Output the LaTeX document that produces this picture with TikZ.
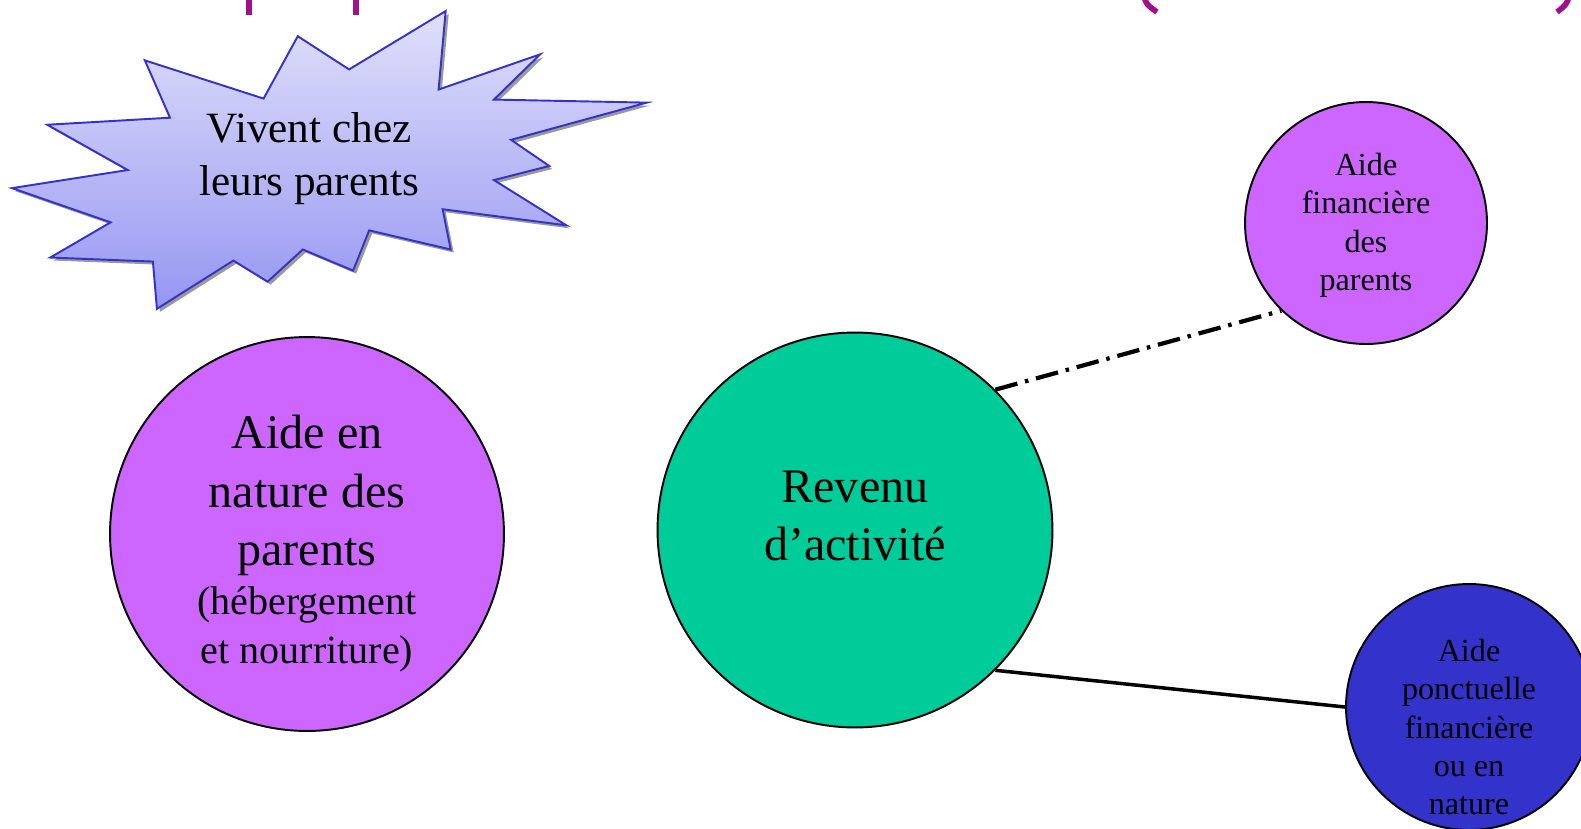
\documentclass[tikz,border=0pt]{standalone}
\usepackage{fontspec}
\setmainfont{Liberation Serif}
\definecolor{circpurple}{HTML}{CC66FF}
\definecolor{circgreen}{HTML}{00CC99}
\definecolor{circblue}{HTML}{3333CC}
\definecolor{titlepurple}{HTML}{A0108A}
\definecolor{startop}{HTML}{E0E0FB}
\definecolor{starbot}{HTML}{9696F2}
\definecolor{staredge}{HTML}{3333CC}
\definecolor{starshadow}{HTML}{9A9A9A}
\tikzset{
  bubble/.style={circle, draw=black, line width=1.1pt, inner sep=0pt},
  txt/.style={inner sep=0pt, align=center, text=black},
  bigtxt/.style={txt, font=\fontsize{27.4}{33.2}\selectfont},
  midtxt/.style={txt, font=\fontsize{22.8}{27.6}\selectfont},
  startxt/.style={txt, font=\fontsize{24.6}{29.8}\selectfont},
  smalltxt/.style={txt, font=\fontsize{18.3}{21.9}\selectfont},
  dashdotline/.style={line width=2.4pt, dash pattern=on 13pt off 4.5pt on 2pt off 4.5pt},
  solidline/.style={line width=2pt},
  titlestroke/.style={titlepurple, line width=3.2pt}
}
\begin{document}
\begin{tikzpicture}[x=0.02cm,y=-0.02cm]
\useasboundingbox (0,0) rectangle (1581,828);
\clip (0,0) rectangle (1581,828);

% cut-off title fragments
\draw[titlestroke] (249,-3) -- (249,15);
\draw[titlestroke] (356,-3) -- (356,15);
\draw[titlestroke] (1144,-3) .. controls (1147,5) .. (1157,12);
\draw[titlestroke] (1569,-3) .. controls (1566,5) .. (1557,12);

% starburst
\begin{scope}[scale=1.006]
\def\starpath{(12,187) -- (127,169) -- (47,124) -- (169,117) -- (144,60) -- (262,98) -- (296,36) -- (347,69) -- (443,11) -- (436,89) -- (537,54) -- (491,99) -- (643,102) -- (508,139) -- (546,165) -- (491,179) -- (563,224) -- (440,208) -- (448,248) -- (367,229) -- (351,269) -- (301,248) -- (266,280) -- (232,259) -- (156,307) -- (152,260) -- (50,256) -- (110,221) -- cycle}
\fill[starshadow, shift={(3,3)}] \starpath;
\shade[top color=startop, bottom color=starbot, draw=staredge, line width=1.1pt] \starpath;
\end{scope}
\node[startxt] (star) at (309,158.5) {Vivent chez\\leurs parents};

% circles
\node[bubble, fill=circpurple, minimum size=7.88cm] (nature) at (307,534) {};
\node[bubble, fill=circgreen, minimum size=7.9cm] (revenu) at (855,530) {};
\node[bubble, fill=circpurple, minimum size=4.84cm] (fin) at (1366,223) {};
\node[bubble, fill=circblue, minimum size=4.92cm] (ponct) at (1469,707) {};

% texts
\node[bigtxt] (natureA) at (307,495.5) {Aide en\\nature des\\parents};
\node[midtxt] (natureB) at (307,629.5) {(hébergement\\et nourriture)};
\node[bigtxt] (revenuT) at (855,516) {Revenu\\d’activité};
\node[smalltxt] (finT) at (1366,225.5) {Aide\\financière\\des\\parents};
\node[smalltxt] (ponctT) at (1469,727) {Aide\\ponctuelle\\financière\\ou en\\nature};

% connectors
\draw[dashdotline] (revenu.45) -- (fin.226);
\draw[solidline] (revenu.-45) -- (ponct.180);
\end{tikzpicture}
\end{document}
